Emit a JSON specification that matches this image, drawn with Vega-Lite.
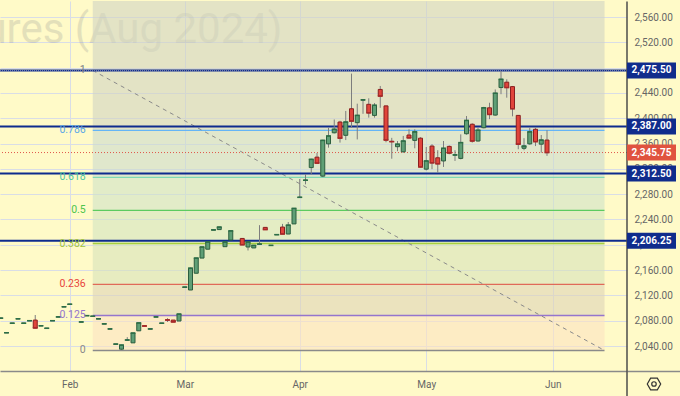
{
  "$schema": "https://vega.github.io/schema/vega-lite/v6.json",
  "background": "#fffac8",
  "padding": 0,
  "autosize": {"type": "pad"},
  "bounds": "flush",
  "spacing": 0,
  "config": {"view": {"stroke": null}, "font": "Roboto", "axis": {"labelFont": "Roboto", "labelOverlap": false}},
  "datasets": {
    "candles": [
      {"date":"2024-01-16","o":2084,"h":2084,"l":2084,"c":2084},
      {"date":"2024-01-17","o":2061,"h":2061,"l":2061,"c":2061},
      {"date":"2024-01-18","o":2076,"h":2076,"l":2076,"c":2076},
      {"date":"2024-01-19","o":2083,"h":2083,"l":2083,"c":2083},
      {"date":"2024-01-22","o":2076,"h":2076,"l":2076,"c":2076},
      {"date":"2024-01-23","o":2080,"h":2080,"l":2080,"c":2080},
      {"date":"2024-01-24","o":2081,"h":2089,"l":2068,"c":2068.5},
      {"date":"2024-01-25","o":2072,"h":2072,"l":2072,"c":2072},
      {"date":"2024-01-26","o":2068,"h":2068,"l":2068,"c":2068},
      {"date":"2024-01-29","o":2080,"h":2080,"l":2080,"c":2080},
      {"date":"2024-01-30","o":2086,"h":2086,"l":2086,"c":2086},
      {"date":"2024-01-31","o":2102,"h":2102,"l":2102,"c":2102},
      {"date":"2024-02-01","o":2106,"h":2106,"l":2106,"c":2106},
      {"date":"2024-02-05","o":2078,"h":2078,"l":2078,"c":2078},
      {"date":"2024-02-06","o":2088,"h":2088,"l":2088,"c":2088},
      {"date":"2024-02-07","o":2087,"h":2087,"l":2087,"c":2087},
      {"date":"2024-02-08","o":2083,"h":2083,"l":2083,"c":2083},
      {"date":"2024-02-09","o":2075,"h":2075,"l":2075,"c":2075},
      {"date":"2024-02-12","o":2067,"h":2067,"l":2067,"c":2067},
      {"date":"2024-02-13","o":2043,"h":2043,"l":2043,"c":2043},
      {"date":"2024-02-14","o":2035,"h":2042,"l":2034,"c":2041.5},
      {"date":"2024-02-15","o":2049.5,"h":2054,"l":2048,"c":2049.5},
      {"date":"2024-02-16","o":2045,"h":2060.5,"l":2045,"c":2060.5},
      {"date":"2024-02-20","o":2064,"h":2076.5,"l":2064,"c":2076.5},
      {"date":"2024-02-21","o":2072,"h":2072,"l":2071.5,"c":2071.5},
      {"date":"2024-02-22","o":2067,"h":2067,"l":2067,"c":2067},
      {"date":"2024-02-23","o":2086,"h":2086,"l":2086,"c":2086},
      {"date":"2024-02-26","o":2076,"h":2076,"l":2076,"c":2076},
      {"date":"2024-02-27","o":2081.5,"h":2084,"l":2078,"c":2081},
      {"date":"2024-02-28","o":2081,"h":2081,"l":2078,"c":2078},
      {"date":"2024-02-29","o":2079.5,"h":2090.5,"l":2079.5,"c":2090.5},
      {"date":"2024-03-01","o":2133,"h":2133,"l":2133,"c":2133},
      {"date":"2024-03-04","o":2128.5,"h":2164,"l":2128.5,"c":2163},
      {"date":"2024-03-05","o":2155,"h":2179,"l":2155,"c":2179},
      {"date":"2024-03-06","o":2179,"h":2196.5,"l":2179,"c":2196.5},
      {"date":"2024-03-07","o":2193,"h":2204.5,"l":2193,"c":2204.5},
      {"date":"2024-03-08","o":2223.5,"h":2223.5,"l":2223.5,"c":2223.5},
      {"date":"2024-03-11","o":2224,"h":2228,"l":2224,"c":2228},
      {"date":"2024-03-12","o":2197,"h":2204.5,"l":2197,"c":2204.5},
      {"date":"2024-03-13","o":2207.5,"h":2222,"l":2207.5,"c":2222},
      {"date":"2024-03-15","o":2210,"h":2210,"l":2200,"c":2200},
      {"date":"2024-03-18","o":2196.5,"h":2204.5,"l":2191,"c":2204.5},
      {"date":"2024-03-19","o":2195,"h":2199,"l":2195,"c":2199},
      {"date":"2024-03-20","o":2201,"h":2231,"l":2200,"c":2201},
      {"date":"2024-03-21","o":2227.5,"h":2227.5,"l":2224,"c":2224},
      {"date":"2024-03-22","o":2199,"h":2199,"l":2199,"c":2199},
      {"date":"2024-03-25","o":2216,"h":2216,"l":2216,"c":2216},
      {"date":"2024-03-26","o":2228,"h":2233,"l":2217,"c":2217},
      {"date":"2024-03-27","o":2217,"h":2236,"l":2217,"c":2231},
      {"date":"2024-03-28","o":2233,"h":2257.5,"l":2233,"c":2257.5},
      {"date":"2024-04-01","o":2275,"h":2304,"l":2275,"c":2275},
      {"date":"2024-04-02","o":2302,"h":2311.5,"l":2295.5,"c":2302},
      {"date":"2024-04-03","o":2322,"h":2336,"l":2311.5,"c":2335},
      {"date":"2024-04-04","o":2338.5,"h":2345,"l":2329,"c":2329},
      {"date":"2024-04-05","o":2308.5,"h":2366,"l":2307,"c":2365},
      {"date":"2024-04-08","o":2359.5,"h":2385,"l":2353.5,"c":2372},
      {"date":"2024-04-09","o":2377,"h":2398,"l":2376,"c":2382.5},
      {"date":"2024-04-10","o":2394,"h":2396,"l":2361.5,"c":2368.5},
      {"date":"2024-04-11","o":2373,"h":2411.5,"l":2365.5,"c":2394},
      {"date":"2024-04-12","o":2415,"h":2470.5,"l":2385,"c":2395.5},
      {"date":"2024-04-15","o":2393,"h":2423,"l":2366.5,"c":2404.5},
      {"date":"2024-04-16","o":2429,"h":2429,"l":2407,"c":2429},
      {"date":"2024-04-17","o":2422,"h":2431.5,"l":2401,"c":2408.5},
      {"date":"2024-04-18","o":2404.5,"h":2424,"l":2401,"c":2420.5},
      {"date":"2024-04-19","o":2445.5,"h":2451,"l":2416.5,"c":2435},
      {"date":"2024-04-22","o":2419.5,"h":2420,"l":2362,"c":2365.5},
      {"date":"2024-04-23","o":2363.5,"h":2369,"l":2336,"c":2363},
      {"date":"2024-04-24","o":2355,"h":2364,"l":2348,"c":2359},
      {"date":"2024-04-25","o":2347,"h":2372,"l":2345.5,"c":2364},
      {"date":"2024-04-26","o":2373.5,"h":2382.5,"l":2368,"c":2369},
      {"date":"2024-04-29","o":2365,"h":2382.5,"l":2352.5,"c":2378.5},
      {"date":"2024-04-30","o":2368.5,"h":2370,"l":2322,"c":2323},
      {"date":"2024-05-01","o":2319.5,"h":2354.5,"l":2317.5,"c":2332.5},
      {"date":"2024-05-02","o":2356,"h":2359,"l":2319.5,"c":2329.5},
      {"date":"2024-05-03","o":2337.5,"h":2349.5,"l":2314,"c":2328},
      {"date":"2024-05-06","o":2332.5,"h":2364,"l":2323,"c":2352.5},
      {"date":"2024-05-07","o":2355.5,"h":2357,"l":2343,"c":2345},
      {"date":"2024-05-08","o":2342,"h":2349.5,"l":2332.5,"c":2342},
      {"date":"2024-05-09","o":2336.5,"h":2374.5,"l":2335,"c":2361.5},
      {"date":"2024-05-10","o":2375.5,"h":2403.5,"l":2374,"c":2396.5},
      {"date":"2024-05-13","o":2390.5,"h":2392,"l":2361.5,"c":2364},
      {"date":"2024-05-14","o":2364,"h":2385,"l":2363,"c":2381},
      {"date":"2024-05-15","o":2385,"h":2418,"l":2384,"c":2416.5},
      {"date":"2024-05-16","o":2416.5,"h":2424.5,"l":2398.5,"c":2406},
      {"date":"2024-05-17","o":2405,"h":2445.5,"l":2404,"c":2439.5},
      {"date":"2024-05-20","o":2448.5,"h":2474.5,"l":2438,"c":2461.5},
      {"date":"2024-05-21","o":2457,"h":2461.5,"l":2432.5,"c":2448.5},
      {"date":"2024-05-22","o":2450,"h":2451,"l":2403,"c":2415},
      {"date":"2024-05-23","o":2404.5,"h":2405,"l":2351,"c":2359},
      {"date":"2024-05-24","o":2352.5,"h":2368.5,"l":2349.5,"c":2356},
      {"date":"2024-05-28","o":2359.5,"h":2385,"l":2358,"c":2378.5},
      {"date":"2024-05-29","o":2382.5,"h":2385,"l":2356,"c":2363},
      {"date":"2024-05-30","o":2359,"h":2373.5,"l":2345.5,"c":2365.5},
      {"date":"2024-05-31","o":2365.5,"h":2381,"l":2340.5,"c":2345.75}
    ],
    "levels": [
      {"price": 2475.5, "kind": "level"},
      {"price": 2387, "kind": "level"},
      {"price": 2312.5, "kind": "level"},
      {"price": 2206.25, "kind": "level"},
      {"price": 2345.75, "kind": "last"}
    ],
    "fib": [
      {"level": "1", "price": 2475.5},
      {"level": "0.786", "price": 2380.8},
      {"level": "0.618", "price": 2306.5},
      {"level": "0.5", "price": 2254.25},
      {"level": "0.382", "price": 2202},
      {"level": "0.236", "price": 2137.4},
      {"level": "0.125", "price": 2088.3},
      {"level": "0", "price": 2033}
    ],
    "zones": [
      {"zone": "1-up", "lo": 2475.5, "hi": 2585.3},
      {"zone": "0.786-1", "lo": 2380.8, "hi": 2475.5},
      {"zone": "0.618-0.786", "lo": 2306.5, "hi": 2380.8},
      {"zone": "0.5-0.618", "lo": 2254.25, "hi": 2306.5},
      {"zone": "0.382-0.5", "lo": 2202, "hi": 2254.25},
      {"zone": "0.236-0.382", "lo": 2137.4, "hi": 2202},
      {"zone": "0.125-0.236", "lo": 2088.3, "hi": 2137.4},
      {"zone": "0-0.125", "lo": 2033, "hi": 2088.3}
    ],
    "drawing": [{"d1": "2024-02-07", "p1": 2475.5, "d2": "2024-06-14", "p2": 2033}]
  },
  "hconcat": [
    {
      "width": 627,
      "height": 370,
      "resolve": {"scale": {"color": "independent", "fill": "independent", "stroke": "independent", "strokeWidth": "independent"}},
      "layer": [
        {
          "data": {"values": [{}]},
          "mark": {"type": "text", "align": "right", "baseline": "alphabetic", "fontSize": 42, "font": "Roboto", "fill": "#787b86", "opacity": 0.2, "clip": true},
          "encoding": {
            "x": {
              "datum": "2024-03-26", "type": "ordinal", "title": null,
              "scale": {"type": "point", "padding": 0.5217, "align": 0.125, "domain": ["2024-01-16","2024-01-17","2024-01-18","2024-01-19","2024-01-22","2024-01-23","2024-01-24","2024-01-25","2024-01-26","2024-01-29","2024-01-30","2024-01-31","2024-02-01","2024-02-02","2024-02-05","2024-02-06","2024-02-07","2024-02-08","2024-02-09","2024-02-12","2024-02-13","2024-02-14","2024-02-15","2024-02-16","2024-02-20","2024-02-21","2024-02-22","2024-02-23","2024-02-26","2024-02-27","2024-02-28","2024-02-29","2024-03-01","2024-03-04","2024-03-05","2024-03-06","2024-03-07","2024-03-08","2024-03-11","2024-03-12","2024-03-13","2024-03-14","2024-03-15","2024-03-18","2024-03-19","2024-03-20","2024-03-21","2024-03-22","2024-03-25","2024-03-26","2024-03-27","2024-03-28","2024-04-01","2024-04-02","2024-04-03","2024-04-04","2024-04-05","2024-04-08","2024-04-09","2024-04-10","2024-04-11","2024-04-12","2024-04-15","2024-04-16","2024-04-17","2024-04-18","2024-04-19","2024-04-22","2024-04-23","2024-04-24","2024-04-25","2024-04-26","2024-04-29","2024-04-30","2024-05-01","2024-05-02","2024-05-03","2024-05-06","2024-05-07","2024-05-08","2024-05-09","2024-05-10","2024-05-13","2024-05-14","2024-05-15","2024-05-16","2024-05-17","2024-05-20","2024-05-21","2024-05-22","2024-05-23","2024-05-24","2024-05-28","2024-05-29","2024-05-30","2024-05-31","2024-06-03","2024-06-04","2024-06-05","2024-06-06","2024-06-07","2024-06-10","2024-06-11","2024-06-12","2024-06-13","2024-06-14","2024-06-17","2024-06-18","2024-06-20"]},
              "axis": {"orient": "bottom", "values": ["2024-02-01","2024-03-01","2024-04-01","2024-05-01","2024-06-03"], "labelExpr": "utcFormat(toDate(datum.value), '%b')", "grid": true, "gridColor": "#d9dde6", "ticks": false, "domain": true, "domainColor": "#8a8a8a", "domainWidth": 1.5, "labelColor": "#666666", "labelFontSize": 10, "labelPadding": 8, "labelAngle": 0, "title": null, "minExtent": 26, "maxExtent": 26, "zindex": 0}
            },
            "y": {
              "datum": 2519, "type": "quantitative", "title": null,
              "scale": {"domain": [2000.5, 2585.3], "nice": false, "zero": false},
              "axis": {"orient": "right", "values": [2040,2080,2120,2160,2200,2240,2280,2320,2360,2400,2440,2480,2520,2560], "tickCount": 40, "format": ",.2f", "grid": true, "gridColor": "#d9dde6", "labels": true, "labelColor": "#666666", "labelFontSize": 10, "labelFont": "Roboto", "labelPadding": 7, "labelOverlap": false, "labelFlush": false, "ticks": false, "domain": false, "title": null, "minExtent": 0, "maxExtent": 0, "zindex": 0}
            },
            "text": {"value": "Gold Futures (Aug 2024)"}
          }
        },
        {
          "data": {"name": "zones"},
          "mark": {"type": "rect", "opacity": 0.6, "clip": true},
          "encoding": {
            "x": {"datum": "2024-02-07", "type": "ordinal", "title": null},
            "x2": {"datum": "2024-06-14"},
            "y": {"field": "lo", "type": "quantitative", "title": null},
            "y2": {"field": "hi"},
            "fill": {"field": "zone", "type": "nominal", "legend": null,
              "scale": {"domain": ["1-up","0.786-1","0.618-0.786","0.5-0.618","0.382-0.5","0.236-0.382","0.125-0.236","0-0.125"],
                        "range": ["#d0d4c3","#d0d4c3","#cbdacf","#cfe3c8","#d2e4c1","#d7e3bb","#ded4b7","#fce3c1"]}}
          }
        },
        {
          "data": {"name": "fib"},
          "mark": {"type": "rule", "clip": true},
          "encoding": {
            "x": {"datum": "2024-02-07", "type": "ordinal", "title": null},
            "x2": {"datum": "2024-06-14"},
            "y": {"field": "price", "type": "quantitative", "title": null},
            "stroke": {"field": "level", "type": "nominal", "legend": null,
              "scale": {"domain": ["1","0.786","0.618","0.5","0.382","0.236","0.125","0"],
                        "range": ["#787b86","#64b5f6","#7ed9b5","#5ccb5f","#a5cf3f","#e06a58","#9575cd","#8a8a8a"]}},
            "strokeWidth": {"field": "level", "type": "ordinal", "legend": null,
              "scale": {"domain": ["1","0.786","0.618","0.5","0.382","0.236","0.125","0"],
                        "range": [1, 1.5, 2, 1.5, 2, 2, 1.2, 1.5]}}
          }
        },
        {
          "data": {"name": "drawing"},
          "mark": {"type": "rule", "color": "#8a8a8a", "strokeWidth": 1, "strokeDash": [4, 4], "clip": true},
          "encoding": {
            "x": {"field": "d1", "type": "ordinal", "title": null},
            "x2": {"field": "d2"},
            "y": {"field": "p1", "type": "quantitative", "title": null},
            "y2": {"field": "p2"}
          }
        },
        {
          "data": {"name": "levels"},
          "transform": [{"filter": "datum.kind == 'level'"}],
          "mark": {"type": "rule", "color": "#0e2b8e", "strokeWidth": 2, "clip": true},
          "encoding": {"y": {"field": "price", "type": "quantitative", "title": null}}
        },
        {
          "data": {"values": [{}]},
          "mark": {"type": "rule", "color": "#a0a6b8", "strokeWidth": 1, "strokeDash": [1, 1], "clip": true},
          "encoding": {"y": {"datum": 2474.9, "type": "quantitative", "title": null}}
        },
        {
          "data": {"name": "levels"},
          "transform": [{"filter": "datum.kind == 'last'"}],
          "mark": {"type": "rule", "color": "#e0554a", "strokeWidth": 1, "strokeDash": [1, 2], "clip": true},
          "encoding": {"y": {"field": "price", "type": "quantitative", "title": null}}
        },
        {
          "data": {"name": "candles"},
          "mark": {"type": "rule", "color": "#7d7d7d", "strokeWidth": 1, "clip": true},
          "encoding": {
            "x": {"field": "date", "type": "ordinal", "title": null},
            "y": {"field": "l", "type": "quantitative", "title": null},
            "y2": {"field": "h"}
          }
        },
        {
          "data": {"name": "candles"},
          "mark": {"type": "bar", "width": 4, "strokeWidth": 1, "clip": true},
          "encoding": {
            "x": {"field": "date", "type": "ordinal", "title": null},
            "y": {"field": "o", "type": "quantitative", "title": null},
            "y2": {"field": "c"},
            "fill": {"condition": {"test": "datum.c >= datum.o", "value": "#5f9f76"}, "value": "#e0443b"},
            "stroke": {"condition": {"test": "datum.c >= datum.o", "value": "#2c5e3f"}, "value": "#8a1f1f"}
          }
        },
        {
          "data": {"name": "candles"},
          "mark": {"type": "tick", "orient": "horizontal", "size": 5, "thickness": 1.5, "opacity": 1, "clip": true},
          "encoding": {
            "x": {"field": "date", "type": "ordinal", "title": null},
            "y": {"field": "c", "type": "quantitative", "title": null},
            "color": {"condition": {"test": "datum.c >= datum.o", "value": "#2c6e47"}, "value": "#a82a2a"}
          }
        },
        {
          "data": {"name": "fib"},
          "mark": {"type": "text", "align": "right", "baseline": "middle", "dx": -7, "fontSize": 10.5, "font": "Roboto", "clip": true},
          "encoding": {
            "x": {"datum": "2024-02-07", "type": "ordinal", "title": null},
            "y": {"field": "price", "type": "quantitative", "title": null},
            "text": {"field": "level", "type": "nominal"},
            "fill": {"field": "level", "type": "nominal", "legend": null,
              "scale": {"domain": ["1","0.786","0.618","0.5","0.382","0.236","0.125","0"],
                        "range": ["#787b86","#5aa7e6","#4fc79f","#4cc44c","#a3c43a","#e8453c","#9575cd","#888888"]}}
          }
        }
      ]
    },
    {
      "width": 53,
      "height": 370,
      "layer": [
        {
          "data": {"values": [{}]},
          "mark": {"type": "rule", "color": "#4d4d4d", "strokeWidth": 1.5},
          "encoding": {
            "x": {"datum": 0, "type": "quantitative", "title": null,
              "scale": {"domain": [0, 1], "nice": false, "zero": false},
              "axis": {"labels": false, "ticks": false, "grid": false, "domain": true, "domainColor": "#8a8a8a", "domainWidth": 1.5, "title": null, "minExtent": 26, "maxExtent": 26}},
            "y": {"datum": 1961, "type": "quantitative", "title": null,
              "scale": {"domain": [2000.5, 2585.3], "nice": false, "zero": false},
              "axis": null},
            "y2": {"datum": 2584.5}
          }
        },
        {
          "data": {"name": "levels"},
          "mark": {"type": "tick", "orient": "horizontal", "size": 49, "thickness": 16, "opacity": 1},
          "encoding": {
            "x": {"datum": 0.4623, "type": "quantitative", "title": null},
            "y": {"field": "price", "type": "quantitative", "title": null},
            "color": {"field": "kind", "type": "nominal", "legend": null, "scale": {"domain": ["level", "last"], "range": ["#102c8c", "#e0533f"]}}
          }
        },
        {
          "data": {"name": "levels"},
          "mark": {"type": "text", "fill": "#ffffff", "fontSize": 10, "fontWeight": "bold", "font": "Roboto", "align": "center", "baseline": "middle"},
          "encoding": {
            "x": {"datum": 0.4623, "type": "quantitative", "title": null},
            "y": {"field": "price", "type": "quantitative", "title": null},
            "text": {"field": "price", "type": "quantitative", "format": ",.2f"}
          }
        },
        {
          "data": {"values": [{}]},
          "mark": {"type": "point", "shape": "M-1,0L-0.5,-0.866L0.5,-0.866L1,0L0.5,0.866L-0.5,0.866Z", "size": 180, "stroke": "#333333", "strokeWidth": 1.2, "filled": false, "opacity": 1},
          "encoding": {
            "x": {"datum": 0.509, "type": "quantitative", "title": null},
            "y": {"datum": 1980, "type": "quantitative", "title": null}
          }
        },
        {
          "data": {"values": [{}]},
          "mark": {"type": "point", "shape": "circle", "size": 20, "stroke": "#333333", "strokeWidth": 1.2, "filled": false, "opacity": 1},
          "encoding": {
            "x": {"datum": 0.509, "type": "quantitative", "title": null},
            "y": {"datum": 1980, "type": "quantitative", "title": null}
          }
        }
      ]
    }
  ]
}
